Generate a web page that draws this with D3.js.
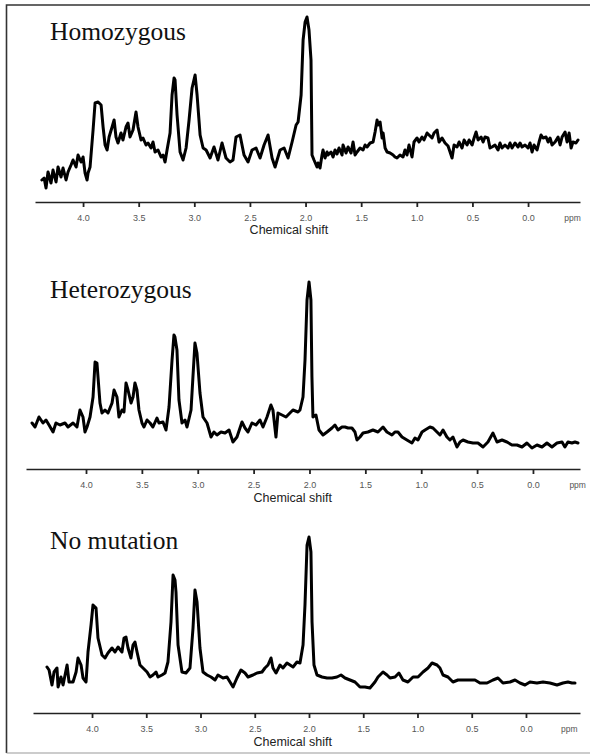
<!DOCTYPE html>
<html>
<head>
<meta charset="utf-8">
<script src="https://cdn.jsdelivr.net/npm/d3@7"></script>
<style>
  html, body { margin: 0; padding: 0; background: #fff; }
  svg { display: block; }
</style>
</head>
<body>
<svg id="chart" width="590" height="756"></svg>
<script>
// ---------------- DATA ----------------
const tickValues = [4.0, 3.5, 3.0, 2.5, 2.0, 1.5, 1.0, 0.5, 0.0];
const axisTitle = "Chemical shift";
const unitLabel = "ppm";
const panelTitles = ["Homozygous", "Heterozygous", "No mutation"];

// Homozygous spectrum: chemical shift (ppm) and intensity (a.u.)
const homoPpm = [4.37,4.35,4.333,4.315,4.288,4.27,4.243,4.225,4.198,4.18,4.153,4.135,4.108,4.09,4.063,4.045,4.018,4.0,3.982,3.964,3.955,3.937,3.91,3.892,3.865,3.838,3.82,3.802,3.784,3.766,3.739,3.721,3.704,3.686,3.659,3.641,3.614,3.596,3.578,3.551,3.524,3.506,3.479,3.461,3.434,3.416,3.389,3.371,3.353,3.326,3.299,3.281,3.263,3.245,3.218,3.2,3.182,3.173,3.155,3.128,3.101,3.074,3.047,3.02,2.993,2.975,2.948,2.921,2.894,2.858,2.823,2.787,2.751,2.715,2.679,2.652,2.625,2.589,2.553,2.517,2.481,2.445,2.409,2.373,2.337,2.301,2.274,2.229,2.193,2.157,2.121,2.085,2.067,2.04,2.022,2.004,1.987,1.969,1.951,
  1.942,1.924,1.897,1.888,1.870,1.852,1.843,1.825,1.807,1.798,1.771,1.753,1.735,1.717,1.699,1.672,1.663,1.636,1.618,1.591,1.573,1.555,1.537,1.510,1.483,1.465,1.447,1.420,1.393,1.375,1.357,1.348,1.330,1.312,1.303,1.285,1.267,1.240,1.213,1.196,1.178,1.151,1.124,1.106,1.088,1.070,1.043,1.025,0.998,0.980,0.953,0.935,0.908,0.890,0.863,0.845,0.818,0.800,0.773,0.746,0.719,0.701,0.683,0.665,0.638,0.620,0.593,0.575,0.548,0.530,0.503,0.485,0.467,0.449,0.422,0.404,0.387,0.360,0.342,0.324,0.297,0.270,0.252,0.234,0.207,0.180,0.162,0.144,0.117,0.090,0.072,0.054,0.027,0.000,-0.018,-0.036,-0.054,-0.081,-0.099,-0.117,-0.135,-0.162,-0.180,-0.198,-0.216,-0.243,-0.270,-0.288,-0.306,-0.333,-0.351,-0.369,-0.387,-0.404,-0.431,-0.449];
const homoInt = [20,22,12,28,17,30,18,33,23,32,20,28,35,40,33,45,38,43,27,20,27,33,70,97,98,95,73,55,50,63,73,80,63,57,67,60,73,77,63,70,88,73,60,62,55,57,52,58,48,50,43,45,38,50,67,105,122,120,85,48,40,52,80,112,125,105,65,52,50,42,53,40,57,42,38,40,63,65,45,38,50,52,42,55,65,42,33,50,52,42,58,75,78,105,160,178,183,170,140,
  45,40,33,37,32,45,50,42,48,45,48,43,50,46,52,45,55,47,53,47,58,45,48,52,50,55,53,57,58,68,80,75,78,62,67,52,48,47,45,43,42,45,43,50,45,55,43,58,62,58,63,60,67,65,62,67,70,58,62,57,54,48,42,55,53,58,52,60,55,60,55,62,68,60,63,58,63,62,52,53,55,50,57,52,55,52,57,52,57,53,57,53,55,52,57,48,55,50,58,65,62,63,58,62,55,58,63,55,63,68,58,67,52,58,57,60];

// Heterozygous spectrum
const hetPpm = [4.483,4.456,4.421,4.385,4.358,4.331,4.295,4.269,4.233,4.188,4.161,4.116,4.081,4.054,4.027,4.009,3.991,3.964,3.937,3.919,3.902,3.875,3.857,3.83,3.803,3.767,3.749,3.723,3.705,3.678,3.66,3.642,3.624,3.597,3.579,3.562,3.544,3.526,3.499,3.481,3.454,3.427,3.401,3.365,3.347,3.311,3.284,3.257,3.23,3.213,3.204,3.186,3.168,3.141,3.114,3.096,3.06,3.043,3.025,3.007,2.98,2.953,2.917,2.881,2.855,2.828,2.792,2.756,2.72,2.685,2.649,2.604,2.577,2.55,2.515,2.479,2.443,2.416,2.38,2.345,2.327,2.3,2.282,2.246,2.21,2.175,2.148,2.103,2.085,2.058,2.04,2.022,2.004,1.987,1.978,1.969,1.942,1.915,1.879,1.843,1.799,1.772,1.745,1.709,1.682,1.655,1.62,1.593,1.575,1.548,1.521,1.477,1.432,1.387,1.342,1.307,1.262,1.235,1.208,1.172,1.128,1.083,1.056,1.029,0.993,0.966,0.922,0.895,0.859,0.832,0.805,0.77,0.743,0.716,0.68,0.653,0.626,0.582,0.537,0.492,0.447,0.403,0.358,0.322,0.277,0.233,0.188,0.143,0.098,0.054,0.009,-0.036,-0.081,-0.125,-0.17,-0.215,-0.26,-0.286,-0.313,-0.349,-0.376,-0.403];
const hetInt = [44,40,50,44,47,42,35,44,42,44,40,44,40,57,50,35,40,50,70,105,104,64,54,57,54,64,77,70,50,57,55,84,77,64,70,84,77,57,44,40,47,44,40,49,44,45,37,60,107,132,130,117,67,44,47,40,57,90,124,114,74,50,44,30,35,32,35,34,37,25,30,45,39,35,44,42,47,40,50,62,57,30,54,52,50,54,57,55,57,70,107,167,185,167,90,50,52,37,32,35,39,42,37,40,40,39,39,35,27,30,34,35,37,35,40,35,32,35,35,30,27,24,29,27,35,37,40,39,35,32,37,30,27,30,20,25,27,25,24,24,20,25,34,25,27,25,22,22,20,24,19,22,20,24,20,24,25,20,25,24,25,24];

// No-mutation spectrum
const normPpm = [4.415,4.396,4.369,4.35,4.323,4.313,4.286,4.267,4.23,4.212,4.175,4.147,4.129,4.101,4.083,4.055,4.037,4.009,3.991,3.963,3.945,3.908,3.88,3.853,3.816,3.788,3.76,3.724,3.705,3.687,3.668,3.641,3.622,3.604,3.585,3.558,3.53,3.493,3.465,3.438,3.41,3.392,3.355,3.327,3.3,3.272,3.253,3.235,3.226,3.207,3.171,3.134,3.097,3.069,3.051,3.032,3.005,2.977,2.94,2.903,2.866,2.839,2.793,2.756,2.728,2.7,2.664,2.627,2.59,2.562,2.516,2.479,2.433,2.406,2.378,2.35,2.332,2.304,2.267,2.24,2.203,2.175,2.147,2.111,2.083,2.055,2.037,2.018,2.0,1.982,1.972,1.954,1.926,1.88,1.834,1.788,1.742,1.705,1.668,1.622,1.576,1.53,1.484,1.438,1.392,1.364,1.318,1.281,1.253,1.207,1.171,1.134,1.088,1.041,0.995,0.949,0.903,0.866,0.82,0.793,0.765,0.719,0.673,0.627,0.581,0.516,0.47,0.424,0.359,0.304,0.258,0.212,0.147,0.101,0.055,0.009,-0.037,-0.101,-0.157,-0.221,-0.286,-0.341,-0.387,-0.424,-0.452];
const normInt = [44,41,26,39,43,24,34,26,46,29,29,39,53,46,33,29,59,86,106,103,73,56,53,58,63,59,64,59,73,74,63,53,66,69,59,46,43,39,34,36,39,34,36,38,49,89,136,131,119,66,39,38,43,83,121,109,63,39,36,34,31,36,33,34,29,24,33,41,38,34,36,38,39,43,46,53,43,38,46,43,48,46,44,49,48,66,106,166,174,159,89,46,36,34,33,33,34,36,33,31,29,24,24,23,29,34,39,36,33,34,38,31,29,34,34,39,43,48,46,43,36,34,29,31,31,31,31,28,28,31,33,28,29,31,28,26,29,28,29,28,26,28,29,28,28];

// ---------------- DRAWING ----------------
const svg = d3.select("#chart");

// outer frame
svg.append("path")
  .attr("d", "M590,5 L6.5,5 L6.5,753")
  .attr("fill", "none").attr("stroke", "#333").attr("stroke-width", 1.6);
svg.append("path")
  .attr("d", "M6.5,753 L590,753")
  .attr("fill", "none").attr("stroke", "#999").attr("stroke-width", 1);

const panels = [
  { title: panelTitles[0], ppm: homoPpm, inten: homoInt, x0: 35, x1: 580, domain: [4.432, -0.467], axisY: 202, base: 200, titleY: 40, shiftY: 234 },
  { title: panelTitles[1], ppm: hetPpm,  inten: hetInt,  x0: 26, x1: 580, domain: [4.537, -0.421], axisY: 469, base: 467, titleY: 298, shiftY: 502 },
  { title: panelTitles[2], ppm: normPpm, inten: normInt, x0: 33, x1: 580, domain: [4.544, -0.498], axisY: 713, base: 711, titleY: 549, shiftY: 746 }
];

panels.forEach(p => {
  const g = svg.append("g");
  const x = d3.scaleLinear().domain(p.domain).range([p.x0, p.x1]);
  const y = d3.scaleLinear().domain([0, 100]).range([p.base, p.base - 100]);

  // title
  g.append("text")
    .attr("x", 50).attr("y", p.titleY)
    .attr("font-family", "'Liberation Serif', 'Times New Roman', serif")
    .attr("font-size", 25.5).attr("fill", "#111")
    .text(p.title);

  // axis
  const axis = d3.axisBottom(x).tickValues(tickValues).tickSize(5).tickSizeOuter(0)
    .tickFormat(d3.format(".1f"));
  const ag = g.append("g").attr("transform", `translate(0,${p.axisY})`).call(axis);
  ag.select(".domain").attr("stroke", "#222").attr("stroke-width", 1.6);
  ag.selectAll(".tick line").attr("stroke", "#222").attr("stroke-width", 1.8);
  ag.selectAll(".tick text")
    .attr("font-family", "'Liberation Sans', Arial, sans-serif")
    .attr("font-size", 9).attr("fill", "#555").attr("dy", null).attr("y", 19);

  // ppm unit
  g.append("text")
    .attr("x", x(-0.4)).attr("y", p.axisY + 19)
    .attr("text-anchor", "middle")
    .attr("font-family", "'Liberation Sans', Arial, sans-serif")
    .attr("font-size", 8.5).attr("fill", "#555")
    .text(unitLabel);

  // axis title
  g.append("text")
    .attr("x", x(2.15)).attr("y", p.shiftY)
    .attr("text-anchor", "middle")
    .attr("font-family", "'Liberation Sans', Arial, sans-serif")
    .attr("font-size", 12.5).attr("fill", "#222")
    .text(axisTitle);

  // spectrum
  const pts = p.ppm.map((v, i) => [v, p.inten[i]]);
  const line = d3.line().x(d => x(d[0])).y(d => y(d[1]));
  g.append("path")
    .datum(pts)
    .attr("d", line)
    .attr("fill", "none").attr("stroke", "#000")
    .attr("stroke-width", 3)
    .attr("stroke-linejoin", "round").attr("stroke-linecap", "round");
});
</script>
</body>
</html>
